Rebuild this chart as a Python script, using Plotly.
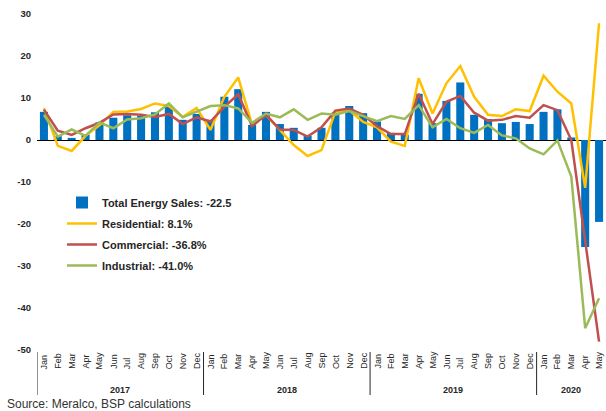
import plotly.graph_objects as go

MONTHS = ["Jan", "Feb", "Mar", "Apr", "May", "Jun", "Jul", "Aug", "Sep", "Oct", "Nov", "Dec"]
month_labels = MONTHS * 3 + MONTHS[:5]
YEARS = ["2017", "2018", "2019", "2020"]
year_counts = [12, 12, 12, 5]

total = [6.7, 0.9, 0.5, 1.3, 4.2, 5.3, 5.9, 5.7, 6.6, 7.9, 4.8, 6.2,
         4.8, 10.3, 12.1, 3.6, 6.7, 3.8, 2.9, 1.0, 2.9, 6.5, 8.1, 6.4,
         4.4, 1.7, 1.2, 11.0, 4.0, 9.3, 13.7, 6.0, 5.0, 4.0, 4.3, 3.8,
         6.7, 7.3, 0.6, -25.5, -19.5]
residential = [7.6, -1.4, -2.6, 1.0, 3.5, 6.7, 6.8, 7.4, 8.7, 8.1, 5.5, 7.6,
               2.4, 10.3, 14.9, 3.6, 6.0, 2.4, -1.2, -3.8, -2.4, 6.7, 7.1, 4.3,
               3.0, -0.4, -1.4, 14.7, 6.3, 13.5, 17.6, 10.3, 6.0, 5.7, 7.3, 6.9,
               15.3, 11.5, 8.7, -11.4, 27.8]
commercial = [7.2, 2.2, 1.2, 2.8, 4.1, 6.1, 6.2, 6.0, 5.5, 6.2, 3.8, 5.4,
              4.4, 7.9, 10.9, 3.3, 6.0, 2.5, 2.4, 0.8, 3.0, 7.0, 7.5, 6.0,
              3.3, 1.4, 1.4, 11.0, 3.8, 9.1, 10.5, 6.5, 4.6, 4.8, 5.7, 5.3,
              8.3, 7.1, 0.0, -24.3, -48.0]
industrial = [6.0, 0.8, 2.5, 1.0, 4.2, 2.8, 4.9, 5.2, 6.1, 8.7, 5.4, 6.7,
              8.1, 8.3, 7.5, 4.1, 6.3, 5.4, 7.3, 4.8, 6.3, 6.0, 6.9, 5.7,
              4.5, 5.7, 5.0, 8.3, 3.0, 5.0, 2.8, 1.7, 3.6, 1.1, 0.4, -2.0,
              -3.4, -0.1, -8.7, -44.8, -37.7]

names = ["Total Energy Sales: -22.5", "Residential: 8.1%", "Commercial: -36.8%", "Industrial: -41.0%"]
y_ticks = [30, 20, 10, 0, -10, -20, -30, -40, -50]
y_ticktext = ["30", "20", "10", "0", "-10", "-20", "-30", "-40", "-50"]
source_text = "Source: Meralco, BSP calculations"

x = list(range(len(month_labels)))
FONT = "Liberation Sans, Arial, sans-serif"
L, T, PW, PH = 37, 14, 569, 336

fig = go.Figure()
fig.add_trace(go.Bar(x=x, y=total, name=names[0], marker=dict(color="#0070C0", line=dict(width=0)),
                     legendgroup="a"))
fig.add_trace(go.Scatter(x=x, y=residential, name=names[1], mode="lines",
                         line=dict(color="#FFC000", width=2.5), legendgroup="b"))
fig.add_trace(go.Scatter(x=x, y=commercial, name=names[2], mode="lines",
                         line=dict(color="#C0504D", width=2.5), legendgroup="c"))
fig.add_trace(go.Scatter(x=x, y=industrial, name=names[3], mode="lines",
                         line=dict(color="#9BBB59", width=2.5), legendgroup="d"))

annotations = []
for i, m in enumerate(month_labels):
    annotations.append(dict(x=i, y=(350 - 371) / PH, xref="x", yref="paper", text=m, textangle=-90,
                            showarrow=False, xanchor="center", yanchor="bottom",
                            font=dict(family=FONT, size=9, color="#262626")))
shapes = []
start = 0
for yr, cnt in zip(YEARS, year_counts):
    annotations.append(dict(x=start + (cnt - 1) / 2, y=(350 - 390) / PH, xref="x", yref="paper",
                            text="<b>%s</b>" % yr, showarrow=False, xanchor="center", yanchor="middle",
                            font=dict(family=FONT, size=9, color="#262626")))
    shapes.append(dict(type="line", xref="x", yref="paper", x0=start - 0.5, x1=start - 0.5,
                       y0=(350 - 352) / PH, y1=(350 - 395) / PH, line=dict(color="#262626", width=1)))
    start += cnt
annotations.append(dict(x=(5 - L) / PW, y=(350 - 404) / PH, xref="paper", yref="paper", text=source_text,
                        showarrow=False, xanchor="left", yanchor="middle",
                        font=dict(family=FONT, size=12, color="#333333")))

fig.update_layout(
    width=606, height=411,
    margin=dict(l=L, r=606 - L - PW, t=T, b=411 - T - PH, autoexpand=False),
    paper_bgcolor="white", plot_bgcolor="white",
    barmode="overlay", bargap=0.42,
    showlegend=True,
    legend=dict(x=(62 - L) / PW, y=(350 - 188) / PH, xanchor="left", yanchor="top",
                bgcolor="rgba(0,0,0,0)", traceorder="grouped", tracegroupgap=2,
                font=dict(family=FONT, size=11, color="#262626", weight="bold")),
    xaxis=dict(range=[-0.5, len(x) - 0.5], showticklabels=False, showgrid=False, zeroline=False,
               showline=False, ticks=""),
    yaxis=dict(range=[-50, 30], tickvals=y_ticks, ticktext=y_ticktext, showgrid=False,
               zeroline=True, zerolinecolor="#000000", zerolinewidth=1, showline=False,
               ticks="outside", ticklen=3, tickcolor="rgba(0,0,0,0)",
               tickfont=dict(family=FONT, size=9.5, color="#262626", weight="bold")),
    annotations=annotations, shapes=shapes,
    hovermode=False,
)
fig.write_html("out.html", config={"displayModeBar": False},
               post_script="document.body.style.margin='0';document.body.style.overflow='hidden';")
